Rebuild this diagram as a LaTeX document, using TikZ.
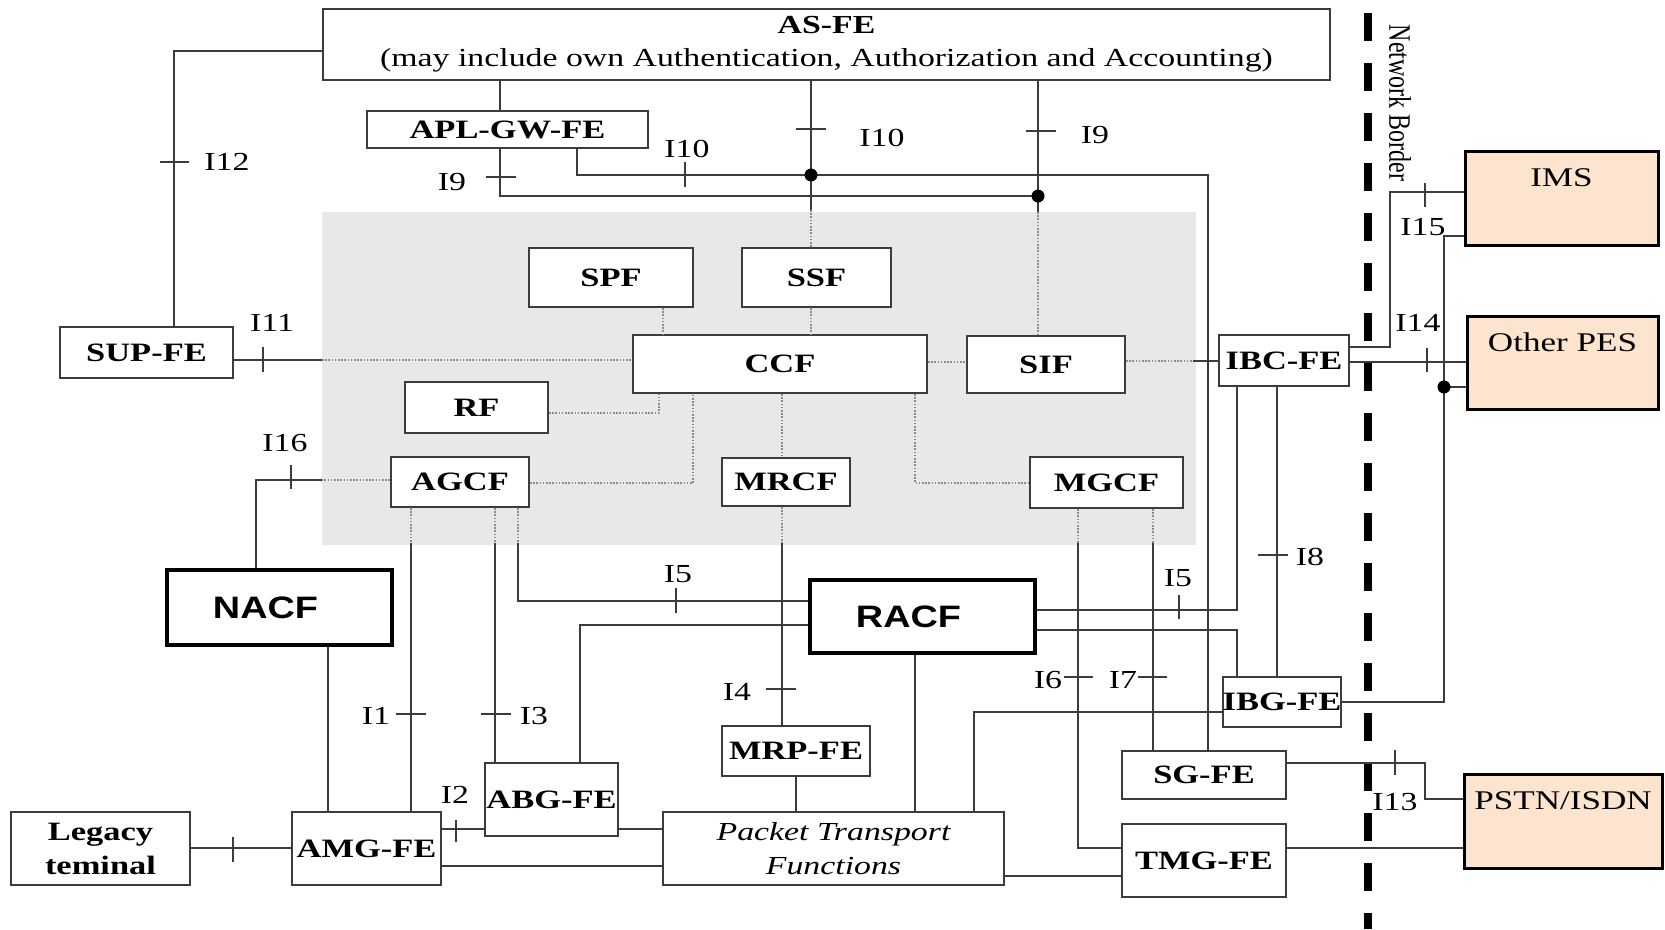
\documentclass[tikz,border=0pt]{standalone}
\usepackage{fontspec}
\usepackage{graphicx}
\setmainfont{Liberation Serif}[FakeStretch=1.3]
\newfontfamily\sansb{Liberation Sans}[FakeStretch=1.22]
\newfontfamily\plainser{Liberation Serif}
\definecolor{lc}{RGB}{60,60,60}
\definecolor{graybg}{RGB}{232,232,232}
\definecolor{peach}{RGB}{252,228,206}
\definecolor{dotc}{RGB}{140,140,140}
\tikzset{
  box/.style={draw=lc, line width=2pt, fill=white, inner sep=0pt, font=\fontsize{26.5}{33}\selectfont\bfseries},
  thickbox/.style={draw=black, line width=4.5pt, fill=white, inner sep=0pt, font=\fontsize{31}{36}\selectfont\sansb\bfseries},
  extbox/.style={draw=black, line width=3pt, fill=peach, inner sep=0pt},
  extlabel/.style={anchor=center, yshift=-28pt, inner sep=0pt, font=\fontsize{27}{32}\selectfont},
  conn/.style={draw=lc, line width=2pt},
  dotln/.style={draw=dotc, line width=1.6pt, dash pattern=on 1.6pt off 1.6pt},
  ifmark/.style={draw=lc, line width=1.8pt},
  iflabel/.style={inner sep=0pt, font=\fontsize{26}{30}\selectfont},
  netb/.style={draw=black, line width=8pt, dash pattern=on 28pt off 22pt},
  jdot/.style={fill=black},
}
\begin{document}
\begin{tikzpicture}[x=1pt,y=-1pt]
\useasboundingbox (0,0) rectangle (1665,929);
% grey area
\fill[graybg] (322,212) rectangle (1196,545);
% network border
\draw[netb] (1368,13) -- (1368,929);
\node[rotate=-90, inner sep=0pt, font=\fontsize{24}{28}\selectfont\plainser] (nb) at (1400,103) {\scalebox{1}[1.3]{Network Border}};

% nodes
\node[box, minimum width=1007pt, minimum height=71pt, align=center, font=\fontsize{26}{33}\selectfont] (asfe) at (826.5,44.5) {\textbf{AS-FE}\\(may include own Authentication, Authorization and Accounting)};
\node[box, minimum width=281pt, minimum height=37pt] (apl) at (507.5,129.5) {APL-GW-FE};
\node[box, minimum width=173pt, minimum height=51pt] (supfe) at (146.5,352.5) {SUP-FE};
\node[box, minimum width=164pt, minimum height=59pt] (spf) at (611,277.5) {SPF};
\node[box, minimum width=149pt, minimum height=59pt] (ssf) at (816.5,277.5) {SSF};
\node[box, minimum width=294pt, minimum height=58pt] (ccf) at (780,364) {CCF};
\node[box, minimum width=158pt, minimum height=57pt] (sif) at (1046,364.5) {SIF};
\node[box, minimum width=143pt, minimum height=51pt] (rf) at (476.5,407.5) {RF};
\node[box, minimum width=138pt, minimum height=50pt] (agcf) at (460,482) {AGCF};
\node[box, minimum width=128pt, minimum height=48pt] (mrcf) at (786,482) {MRCF};
\node[box, minimum width=153pt, minimum height=51pt] (mgcf) at (1106.5,482.5) {MGCF};
\node[box, minimum width=130pt, minimum height=51pt] (ibc) at (1284,360.5) {IBC-FE};
\node[extbox, minimum width=193pt, minimum height=94pt, label={[extlabel]north:IMS}] (ims) at (1561.5,198) {};
\node[extbox, minimum width=191pt, minimum height=93pt, label={[extlabel]north:Other PES}] (ope) at (1562.5,362.5) {};
\node[extbox, minimum width=198pt, minimum height=94pt, label={[extlabel]north:PSTN/ISDN}] (pstn) at (1563,821) {};
\node[thickbox, minimum width=225pt, minimum height=75pt] (nacf) at (279.5,607.5) {NACF\kern28pt};
\node[thickbox, minimum width=225pt, minimum height=73pt] (racf) at (922.5,616.5) {RACF\kern28pt};
\node[box, minimum width=149pt, minimum height=73pt] (amg) at (366.5,848.5) {AMG-FE};
\node[box, minimum width=179pt, minimum height=73pt, align=center, font=\fontsize{26.5}{34}\selectfont\bfseries] (leg) at (100.5,848.5) {Legacy\\teminal};
\node[box, minimum width=133pt, minimum height=73pt] (abg) at (551.5,799.5) {ABG-FE};
\node[box, minimum width=148pt, minimum height=50pt] (mrp) at (796,751) {MRP-FE};
\node[box, minimum width=341pt, minimum height=73pt, align=center, font=\fontsize{26}{34}\selectfont\itshape] (ptf) at (833.5,848.5) {Packet Transport\\Functions};
\node[box, minimum width=164pt, minimum height=48pt] (sgfe) at (1204,775) {SG-FE};
\node[box, minimum width=164pt, minimum height=73pt] (tmg) at (1204,860.5) {TMG-FE};
\node[box, minimum width=118pt, minimum height=50pt] (ibg) at (1282,702) {IBG-FE};

% junction points
\coordinate (dot10) at (811,175);
\coordinate (dot9) at (1038,196);
\coordinate (dotp) at (1444,387);

% AS-FE -- SUP-FE
\draw[conn] (asfe.west |- 0,51) -| (supfe.north -| 174,0);
% AS-FE -- APL-GW-FE
\draw[conn] (asfe.south -| 500,0) -- (apl.north -| 500,0);
% APL-GW-FE I9 / I10
\draw[conn] (apl.south -| 500,0) |- (dot9);
\draw[conn] (apl.south -| 577,0) |- (1208,175) -- (sgfe.north -| 1208,0);
% AS-FE -- SSF / SIF
\draw[conn] (asfe.south -| dot10) -- (dot10) -- (811,210);
\draw[dotln] (811,210) -- (ssf.north -| dot10);
\draw[conn] (asfe.south -| dot9) -- (dot9) -- (1038,212);
\draw[dotln] (1038,212) -- (sif.north -| dot9);
\fill[jdot] (dot10) circle (6.5pt);
\fill[jdot] (dot9) circle (6.5pt);
% SUP-FE -- CCF
\draw[conn] (supfe.east |- 0,360) -- (322,360);
\draw[dotln] (322,360) -- (ccf.west |- 0,360);
% inner dotted links
\draw[dotln] (spf.south -| 663,0) -- (ccf.north -| 663,0);
\draw[dotln] (ssf.south -| 811,0) -- (ccf.north -| 811,0);
\draw[dotln] (ccf.east |- 0,362) -- (sif.west |- 0,362);
\draw[dotln] (sif.east |- 0,361) -- (1193,361);
\draw[conn] (1193,361) -- (ibc.west |- 0,361);
\draw[dotln] (rf.east |- 0,413) -| (ccf.south -| 659,0);
\draw[dotln] (agcf.east |- 0,483) -| (ccf.south -| 693,0);
\draw[dotln] (ccf.south -| 782,0) -- (mrcf.north -| 782,0);
\draw[dotln] (ccf.south -| 915,0) |- (mgcf.west |- 0,483);
% AGCF -- NACF
\draw[dotln] (agcf.west |- 0,480) -- (322,480);
\draw[conn] (322,480) -| (nacf.north -| 256,0);
% NACF -- AMG-FE
\draw[conn] (nacf.south -| 328,0) -- (amg.north -| 328,0);
% AGCF -- AMG-FE / ABG-FE / RACF
\draw[dotln] (agcf.south -| 411,0) -- (411,543);
\draw[conn] (411,543) -- (amg.north -| 411,0);
\draw[dotln] (agcf.south -| 495,0) -- (495,543);
\draw[conn] (495,543) -- (abg.north -| 495,0);
\draw[dotln] (agcf.south -| 518,0) -- (518,543);
\draw[conn] (518,543) |- (racf.west |- 0,601);
% RACF -- ABG-FE
\draw[conn] (racf.west |- 0,625) -| (abg.north -| 580,0);
% MRCF -- MRP-FE -- PTF
\draw[dotln] (mrcf.south -| 782,0) -- (782,543);
\draw[conn] (782,543) -- (mrp.north -| 782,0);
\draw[conn] (mrp.south -| 796,0) -- (ptf.north -| 796,0);
% RACF -- PTF
\draw[conn] (racf.south -| 915,0) -- (ptf.north -| 915,0);
% PTF -- IBG-FE
\draw[conn] (ptf.north -| 974,0) |- (ibg.west |- 0,712);
% ABG / AMG / Legacy / PTF
\draw[conn] (abg.east |- 0,829) -- (ptf.west |- 0,829);
\draw[conn] (amg.east |- 0,866) -- (ptf.west |- 0,866);
\draw[conn] (amg.east |- 0,829) -- (abg.west |- 0,829);
\draw[conn] (leg.east |- 0,848) -- (amg.west |- 0,848);
\draw[conn] (ptf.east |- 0,876) -- (tmg.west |- 0,876);
% MGCF -- TMG-FE / SG-FE
\draw[dotln] (mgcf.south -| 1078,0) -- (1078,543);
\draw[conn] (1078,543) |- (tmg.west |- 0,848);
\draw[dotln] (mgcf.south -| 1153,0) -- (1153,543);
\draw[conn] (1153,543) -- (sgfe.north -| 1153,0);
% RACF -- IBC-FE / IBG-FE
\draw[conn] (racf.east |- 0,610) -| (ibc.south -| 1237,0);
\draw[conn] (racf.east |- 0,630) -| (ibg.north -| 1237,0);
\draw[conn] (ibc.south -| 1277,0) -- (ibg.north -| 1277,0);
% IBG-FE -- IMS / Other PES
\draw[conn] (ibg.east |- 0,702) -| (dotp);
\draw[conn] (dotp) -- (ope.west |- dotp);
\draw[conn] (dotp) |- (ims.west |- 0,236);
\fill[jdot] (dotp) circle (6.5pt);
% IBC-FE -- IMS / Other PES
\draw[conn] (ibc.east |- 0,347) -| (1390,192) -- (ims.west |- 0,192);
\draw[conn] (ibc.east |- 0,362) -- (ope.west |- 0,362);
% SG-FE / TMG-FE -- PSTN
\draw[conn] (sgfe.east |- 0,763) -| (1425,799) -- (pstn.west |- 0,799);
\draw[conn] (tmg.east |- 0,848) -- (pstn.west |- 0,848);

% interface marks
\draw[ifmark] (160,162) -- (189,162);
\draw[ifmark] (486,177) -- (516,177);
\draw[ifmark] (685,162) -- (685,187);
\draw[ifmark] (796,129) -- (826,129);
\draw[ifmark] (1026,131) -- (1056,131);
\draw[ifmark] (263,347) -- (263,372);
\draw[ifmark] (291,465) -- (291,489);
\draw[ifmark] (396,714) -- (426,714);
\draw[ifmark] (481,714) -- (511,714);
\draw[ifmark] (676,588) -- (676,613);
\draw[ifmark] (766,689) -- (796,689);
\draw[ifmark] (456,820) -- (456,842);
\draw[ifmark] (233,837) -- (233,862);
\draw[ifmark] (1064,677) -- (1093,677);
\draw[ifmark] (1138,677) -- (1167,677);
\draw[ifmark] (1179,595) -- (1179,619);
\draw[ifmark] (1258,555) -- (1288,555);
\draw[ifmark] (1425,183) -- (1425,207);
\draw[ifmark] (1427,348) -- (1427,372);
\draw[ifmark] (1395,750) -- (1395,775);

% interface labels
\node[iflabel] (l12) at (227,162) {I12};
\node[iflabel] (l9a) at (452,182) {I9};
\node[iflabel] (l10a) at (687,149) {I10};
\node[iflabel] (l10b) at (882,138) {I10};
\node[iflabel] (l9b) at (1095,135) {I9};
\node[iflabel] (l11) at (272,323) {I11};
\node[iflabel] (l16) at (285,443) {I16};
\node[iflabel] (l1) at (376,716) {I1};
\node[iflabel] (l3) at (534,716) {I3};
\node[iflabel] (l5a) at (678,574) {I5};
\node[iflabel] (l4) at (737,692) {I4};
\node[iflabel] (l2) at (455,795) {I2};
\node[iflabel] (l6) at (1048,680) {I6};
\node[iflabel] (l7) at (1123,680) {I7};
\node[iflabel] (l5b) at (1178,578) {I5};
\node[iflabel] (l8) at (1310,557) {I8};
\node[iflabel] (l15) at (1423,227) {I15};
\node[iflabel] (l14) at (1418,323) {I14};
\node[iflabel] (l13) at (1395,802) {I13};
\end{tikzpicture}
\end{document}
